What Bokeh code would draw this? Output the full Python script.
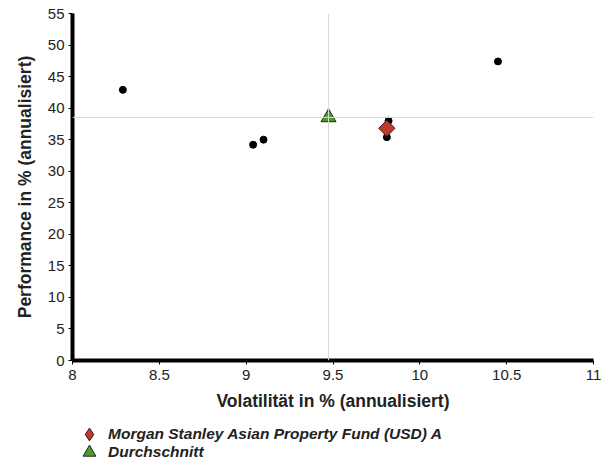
import numpy as np
from bokeh.plotting import figure
from bokeh.models import Span, Legend, LegendItem, FixedTicker, Range1d
from bokeh.layouts import column
from bokeh.embed import file_html
from bokeh.resources import INLINE

# data
vol = [8.29, 9.04, 9.10, 9.82, 9.81, 9.81, 10.45]
perf = [42.9, 34.2, 35.0, 38.0, 35.4, 36.8, 47.4]
fund_name = "Morgan Stanley Asian Property Fund (USD) A"
fund_vol = [9.81]
fund_perf = [36.8]
avg_name = "Durchschnitt"
avg_vol = [float(np.mean(vol))]
avg_perf = [float(np.mean(perf))]
x_ticks = [8, 8.5, 9, 9.5, 10, 10.5, 11]
y_ticks = [0, 5, 10, 15, 20, 25, 30, 35, 40, 45, 50, 55]

FONT = "Liberation Sans"
RED = "#c0392b"
GREEN = "#4e9a2f"
RED_LINE = "#3a1a18"
GREEN_LINE = "#1a2e10"

p = figure(width=605, height=419, output_backend="svg", toolbar_location=None,
           x_range=Range1d(8, 11), y_range=Range1d(0, 55),
           min_border_left=72, min_border_right=12, min_border_top=13, min_border_bottom=59)
p.outline_line_color = None
p.xgrid.visible = False
p.ygrid.visible = False
p.background_fill_color = "white"
p.border_fill_color = "white"

for ax in (p.xaxis[0], p.yaxis[0]):
    ax.axis_line_width = 4
    ax.axis_line_color = "black"
    ax.major_tick_in = 0
    ax.major_tick_out = 4
    ax.major_tick_line_color = "black"
    ax.minor_tick_line_color = None
    ax.major_label_text_font = FONT
    ax.major_label_text_font_size = "15px"
    ax.major_label_text_color = "#222222"
    ax.axis_label_text_font = FONT
    ax.axis_label_text_font_style = "bold"
    ax.axis_label_text_font_size = "17.5px"
    ax.axis_label_text_color = "#222222"

p.xaxis.ticker = FixedTicker(ticks=x_ticks)
p.yaxis.ticker = FixedTicker(ticks=y_ticks)
p.xaxis.axis_label = "Volatilität in % (annualisiert)"
p.yaxis.axis_label = "Performance in % (annualisiert)"
p.xaxis.major_label_standoff = 5
p.xaxis.axis_label_standoff = 8
p.yaxis.major_label_standoff = 4
p.yaxis.axis_label_standoff = 10

p.add_layout(Span(location=avg_perf[0], dimension="width", line_color="#d9d9d9", line_width=1))
p.add_layout(Span(location=avg_vol[0], dimension="height", line_color="#d9d9d9", line_width=1))

p.scatter(vol, perf, size=7, color="black")
p.scatter(fund_vol, fund_perf, marker="square", angle=np.pi / 4, size=11.5,
          fill_color=RED, line_color=RED_LINE, line_width=1)
p.scatter(avg_vol, avg_perf, marker="triangle", size=15,
          fill_color=GREEN, line_color=GREEN_LINE, line_width=1)

# legend strip below the chart (hidden renderers only provide legend glyph styles)
lg = figure(width=605, height=45, output_backend="svg", toolbar_location=None,
            x_range=Range1d(0, 1), y_range=Range1d(0, 1),
            min_border_left=0, min_border_right=0, min_border_top=0, min_border_bottom=0)
lg.axis.visible = False
lg.grid.visible = False
lg.outline_line_color = None
r_fund_leg = lg.scatter(fund_vol, fund_perf, marker="diamond", size=12, visible=False,
                        fill_color=RED, line_color=RED_LINE, line_width=1)
r_avg_leg = lg.scatter(avg_vol, avg_perf, marker="triangle", size=12, visible=False,
                       fill_color=GREEN, line_color=GREEN_LINE, line_width=1)

common = dict(orientation="vertical", border_line_color=None, background_fill_alpha=0,
              glyph_height=32, glyph_width=32, label_height=16,
              spacing=0, padding=0, margin=0, label_standoff=3,
              label_text_font=FONT, label_text_font_style="bold italic",
              label_text_font_size="15.5px", label_text_color="#222222")
leg1 = Legend(items=[LegendItem(label=fund_name, renderers=[r_fund_leg])], location=(1, 14), **common)
leg2 = Legend(items=[LegendItem(label=avg_name, renderers=[r_avg_leg])], location=(1, -4), **common)
lg.add_layout(leg1, "center")
lg.add_layout(leg2, "center")

layout = column(p, lg, spacing=0)
open("out.html", "w").write(file_html(layout, INLINE))
